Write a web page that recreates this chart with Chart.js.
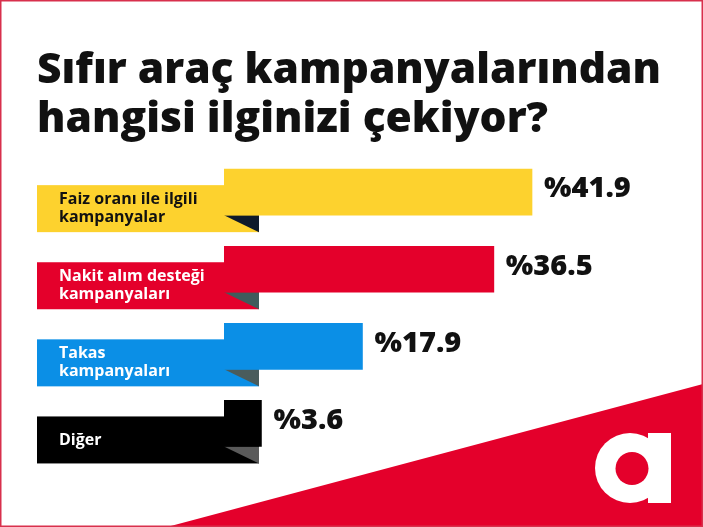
<!DOCTYPE html>
<html>
<head>
<meta charset="utf-8">
<script src="https://cdn.jsdelivr.net/npm/chart.js@4/dist/chart.umd.min.js"></script>
<style>
  html, body { margin: 0; padding: 0; background: #ffffff; }
  #wrap { width: 703px; height: 527px; }
</style>
</head>
<body>
<div id="wrap"><canvas id="c" width="703" height="527"></canvas></div>
<script>
// ---- data ----
const titleLines = ["Sıfır araç kampanyalarından", "hangisi ilginizi çekiyor?"];
const categories = [
  ["Faiz oranı ile ilgili", "kampanyalar"],
  ["Nakit alım desteği", "kampanyaları"],
  ["Takas", "kampanyaları"],
  ["Diğer"]
];
const values = [41.9, 36.5, 17.9, 3.6];
const valuePrefix = "%";

// ---- styles ----
const barColors  = ["#fdd22e", "#e4002b", "#0b8fe6", "#000000"];
const foldColors = ["#0e1a2b", "#3f5c5c", "#4a5c5c", "#5a5a5a"];
const labelTextColors = ["#111111", "#ffffff", "#ffffff", "#ffffff"];
const FONT = "'Open Sans', 'Noto Sans', sans-serif";

const backgroundPlugin = {
  id: 'bg',
  beforeDraw(chart) {
    const ctx = chart.ctx, W = chart.width, H = chart.height;
    ctx.save();
    ctx.fillStyle = '#ffffff';
    ctx.fillRect(0, 0, W, H);
    ctx.fillStyle = '#e4002b';
    ctx.beginPath();
    ctx.moveTo(167, H);
    ctx.lineTo(W, 384);
    ctx.lineTo(W, H);
    ctx.closePath();
    ctx.fill();
    ctx.fillStyle = '#ffffff';
    ctx.beginPath();
    ctx.arc(630, 468, 35, 0, Math.PI * 2);
    ctx.fill();
    ctx.fillRect(648, 433, 23, 70);
    ctx.fillStyle = '#e4002b';
    ctx.beginPath();
    ctx.arc(632, 468.5, 16.5, 0, Math.PI * 2);
    ctx.fill();
    ctx.strokeStyle = '#d8304c';
    ctx.lineWidth = 1.5;
    ctx.strokeRect(0.75, 0.75, W - 1.5, H - 1.5);
    ctx.restore();
  }
};

const labelBoxPlugin = {
  id: 'labelBoxes',
  beforeDatasetsDraw(chart) {
    const ctx = chart.ctx;
    const meta = chart.getDatasetMeta(0);
    const yScale = chart.scales.y;
    ctx.save();
    meta.data.forEach((bar, i) => {
      const top = bar.y - bar.height / 2;
      const bottom = bar.y + bar.height / 2;
      const boxLeft = yScale.left;
      const boxRight = bar.base + 35;
      const boxTop = top + 16;
      const boxBottom = bottom + 17;
      ctx.fillStyle = barColors[i];
      ctx.fillRect(boxLeft, boxTop, boxRight - boxLeft, boxBottom - boxTop);
      ctx.fillStyle = foldColors[i];
      ctx.beginPath();
      ctx.moveTo(bar.base, bottom);
      ctx.lineTo(boxRight, bottom);
      ctx.lineTo(boxRight, boxBottom);
      ctx.closePath();
      ctx.fill();
    });
    ctx.restore();
  },
  afterDatasetsDraw(chart) {
    const ctx = chart.ctx;
    const meta = chart.getDatasetMeta(0);
    const yScale = chart.scales.y;
    ctx.save();
    meta.data.forEach((bar, i) => {
      const top = bar.y - bar.height / 2;
      const bottom = bar.y + bar.height / 2;
      const boxTop = top + 16, boxBottom = bottom + 17;
      const cy = (boxTop + boxBottom) / 2;
      const lines = chart.data.labels[i];
      const lh = 18;
      ctx.font = "700 16px " + FONT;
      ctx.fillStyle = labelTextColors[i];
      ctx.textAlign = 'left';
      ctx.textBaseline = 'middle';
      const startY = cy - (lines.length - 1) * lh / 2;
      lines.forEach((ln, k) => ctx.fillText(ln, yScale.left + 22, startY + k * lh));
      ctx.font = "800 29px " + FONT;
      ctx.fillStyle = '#111111';
      ctx.fillText(valuePrefix + values[i].toFixed(1), bar.x + 12, bar.y - 3);
    });
    ctx.restore();
  }
};

new Chart(document.getElementById('c'), {
  type: 'bar',
  data: {
    labels: categories,
    datasets: [{
      data: values,
      base: -1.7,
      backgroundColor: barColors,
      borderWidth: 0,
      barThickness: 46
    }]
  },
  options: {
    indexAxis: 'y',
    responsive: false,
    animation: false,
    layout: { padding: { left: 37, right: 29, top: 0, bottom: 65 } },
    scales: {
      x: { display: false, min: -1.7, max: 62 },
      y: {
        display: true,
        ticks: { display: false },
        grid: { display: false },
        border: { display: false },
        afterFit(scale) { scale.width = 187; }
      }
    },
    plugins: {
      legend: { display: false },
      tooltip: { enabled: false },
      title: {
        display: true,
        text: titleLines,
        align: 'start',
        color: '#111111',
        font: { family: FONT, size: 42.5, weight: '800', lineHeight: 1.16 },
        padding: { top: 46, bottom: 9 }
      }
    }
  },
  plugins: [backgroundPlugin, labelBoxPlugin]
});
</script>
</body>
</html>
